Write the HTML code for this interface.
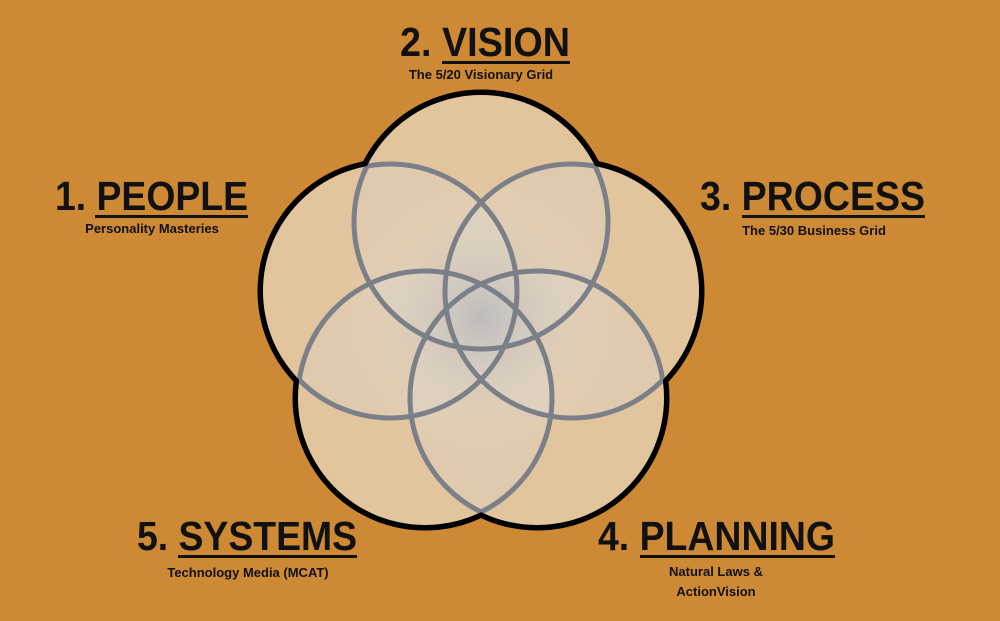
<!DOCTYPE html>
<html><head><meta charset="utf-8"><style>
html,body{margin:0;padding:0;background:#cd8934;}
svg{display:block}
text{font-family:"Liberation Sans",sans-serif;font-weight:bold;fill:#111}
</style></head><body>
<svg width="1000" height="621" viewBox="0 0 1000 621" xmlns="http://www.w3.org/2000/svg">
<defs>
<radialGradient id="sh" cx="481" cy="318" r="220" gradientUnits="userSpaceOnUse">
<stop offset="0" stop-color="#9c9ea6" stop-opacity="0.45"/>
<stop offset="0.65" stop-color="#ffffff" stop-opacity="0.0"/>
</radialGradient>
<clipPath id="c0"><circle cx="390" cy="291" r="127"/><circle cx="572" cy="291" r="127"/><circle cx="537" cy="398" r="127"/><circle cx="425" cy="398" r="127"/></clipPath>
<clipPath id="c1"><circle cx="481" cy="222" r="127"/><circle cx="572" cy="291" r="127"/><circle cx="537" cy="398" r="127"/><circle cx="425" cy="398" r="127"/></clipPath>
<clipPath id="c2"><circle cx="481" cy="222" r="127"/><circle cx="390" cy="291" r="127"/><circle cx="537" cy="398" r="127"/><circle cx="425" cy="398" r="127"/></clipPath>
<clipPath id="c3"><circle cx="481" cy="222" r="127"/><circle cx="390" cy="291" r="127"/><circle cx="572" cy="291" r="127"/><circle cx="425" cy="398" r="127"/></clipPath>
<clipPath id="c4"><circle cx="481" cy="222" r="127"/><circle cx="390" cy="291" r="127"/><circle cx="572" cy="291" r="127"/><circle cx="537" cy="398" r="127"/></clipPath>
</defs>
<g stroke="#000" stroke-width="11" fill="#000">
<circle cx="481" cy="222" r="127"/><circle cx="390" cy="291" r="127"/><circle cx="572" cy="291" r="127"/><circle cx="537" cy="398" r="127"/><circle cx="425" cy="398" r="127"/>
</g>
<g fill="#e6bd86">
<circle cx="481" cy="222" r="127"/><circle cx="390" cy="291" r="127"/><circle cx="572" cy="291" r="127"/><circle cx="537" cy="398" r="127"/><circle cx="425" cy="398" r="127"/>
</g>
<g fill="#dcd7d4" fill-opacity="0.3">
<circle cx="481" cy="222" r="127"/><circle cx="390" cy="291" r="127"/><circle cx="572" cy="291" r="127"/><circle cx="537" cy="398" r="127"/><circle cx="425" cy="398" r="127"/>
</g>
<circle cx="481" cy="318" r="220" fill="url(#sh)"/>
<g fill="none" stroke="#7b7f87" stroke-width="5">
<circle cx="481" cy="222" r="127" clip-path="url(#c0)"/>
<circle cx="390" cy="291" r="127" clip-path="url(#c1)"/>
<circle cx="572" cy="291" r="127" clip-path="url(#c2)"/>
<circle cx="537" cy="398" r="127" clip-path="url(#c3)"/>
<circle cx="425" cy="398" r="127" clip-path="url(#c4)"/>
</g>
<g font-size="41">
<text x="400" y="56" textLength="170" lengthAdjust="spacingAndGlyphs">2. VISION</text>
<text x="55" y="210" textLength="193" lengthAdjust="spacingAndGlyphs">1. PEOPLE</text>
<text x="700" y="210" textLength="225" lengthAdjust="spacingAndGlyphs">3. PROCESS</text>
<text x="137" y="550" textLength="220" lengthAdjust="spacingAndGlyphs">5. SYSTEMS</text>
<text x="598" y="550" textLength="237" lengthAdjust="spacingAndGlyphs">4. PLANNING</text>
</g>
<g fill="#111">
<rect x="442" y="61" width="128" height="3"/>
<rect x="95" y="215" width="153" height="3"/>
<rect x="742" y="215" width="183" height="3"/>
<rect x="178" y="555" width="179" height="3"/>
<rect x="640" y="555" width="195" height="3"/>
</g>
<g font-size="13" text-anchor="middle">
<text x="481" y="79">The 5/20 Visionary Grid</text>
<text x="152" y="233">Personality Masteries</text>
<text x="814" y="235">The 5/30 Business Grid</text>
<text x="248" y="577">Technology Media (MCAT)</text>
<text x="716" y="576">Natural Laws &amp;</text>
<text x="716" y="596">ActionVision</text>
</g>
</svg>
</body></html>
